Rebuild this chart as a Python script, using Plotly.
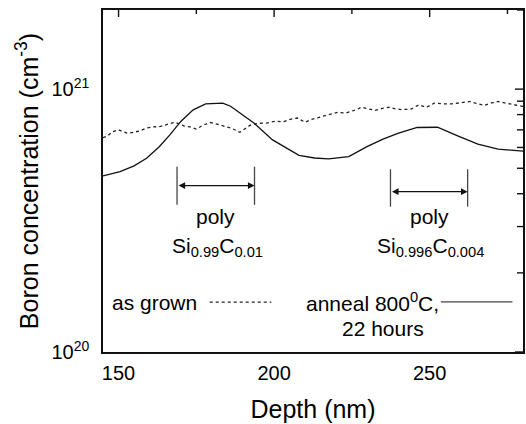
import math
import plotly.graph_objects as go

# ---- data ----
depth_annealed = [145, 150.5, 155, 159, 163, 166.5, 170, 174, 178, 183.5, 186, 189, 193.5, 199.5,
                  204, 208, 213, 217.5, 224, 230, 235, 240, 246, 252.5, 259, 265.5, 272, 280]
boron_annealed = [4.677e20, 4.853e20, 5.105e20, 5.458e20, 6.026e20, 6.699e20, 7.534e20, 8.337e20,
                  8.79e20, 8.851e20, 8.61e20, 8.11e20, 7.43e20, 6.412e20, 5.957e20, 5.598e20,
                  5.47e20, 5.433e20, 5.534e20, 6.053e20, 6.457e20, 6.808e20, 7.145e20, 7.161e20,
                  6.637e20, 6.18e20, 5.916e20, 5.808e20]

depth_grown = [145, 146.5, 148, 150, 151.5, 153, 155, 157, 159, 161, 163.5, 165.5, 168, 169.5, 171,
               173, 175, 177, 179.5, 182, 184, 186.5, 189, 191, 192.5, 195, 197.5, 200.5, 203,
               205.5, 207.5, 210, 212, 214.5, 217, 220.5, 223, 225, 226.5, 228, 230, 232.5, 234.5,
               237, 239, 241, 244, 246.5, 249, 251.5, 254, 257, 260, 263, 265, 267.5, 270, 272,
               274, 276, 278, 280]
boron_grown = [6.531e20, 6.637e20, 6.887e20, 6.998e20, 6.887e20, 6.792e20, 6.855e20, 6.950e20,
               7.112e20, 7.178e20, 7.211e20, 7.345e20, 7.482e20, 7.379e20, 7.244e20, 7.178e20,
               7.047e20, 7.278e20, 7.464e20, 7.345e20, 7.244e20, 7.079e20, 6.855e20, 7.112e20,
               7.311e20, 7.413e20, 7.430e20, 7.551e20, 7.516e20, 7.691e20, 7.762e20, 7.482e20,
               7.674e20, 7.816e20, 7.943e20, 8.166e20, 8.110e20, 8.222e20, 8.356e20, 8.531e20,
               8.414e20, 8.299e20, 8.433e20, 8.531e20, 8.414e20, 8.356e20, 8.395e20, 8.710e20,
               8.531e20, 8.851e20, 8.790e20, 8.790e20, 8.872e20, 8.974e20, 8.831e20, 8.670e20,
               8.872e20, 8.974e20, 8.872e20, 8.790e20, 8.710e20, 8.590e20]

x_ticks = [150, 200, 250]
x_minor = [175, 225, 275]
y_ticks = [1e20, 1e21]
y_ticktext = ["10<sup>20</sup>", "10<sup>21</sup>"]
y_minor = [2e20, 3e20, 4e20, 5e20, 6e20, 7e20, 8e20, 9e20, 2e21]

# layer regions (depth limits, nm) and labels
regions = [(168.8, 193.7), (237.4, 262.2)]
region_labels = ["Si<sub>0.99</sub>C<sub>0.01</sub>", "Si<sub>0.996</sub>C<sub>0.004</sub>"]

FONT = "Liberation Sans, Arial, sans-serif"
X_RANGE = [145, 280]
Y_RANGE = [20, 21.301]
INK = "#111"
W, H = 526, 424
M = dict(l=103, r=1, t=10, b=72)
PX_PER_X = (W - M["l"] - M["r"]) / (X_RANGE[1] - X_RANGE[0])
PX_PER_DEC = (H - M["t"] - M["b"]) / (Y_RANGE[1] - Y_RANGE[0])

fig = go.Figure()
fig.add_trace(go.Scatter(x=depth_grown, y=boron_grown, mode="lines",
                         line=dict(color="#222", width=1.3, dash="dot"), showlegend=False))
fig.add_trace(go.Scatter(x=depth_annealed, y=boron_annealed, mode="lines",
                         line=dict(color=INK, width=1.3), showlegend=False))

# outside tick marks as unclipped line markers just beyond the axes
for vals, ln in ((x_ticks, 6), (x_minor, 3)):
    yb = 10 ** (Y_RANGE[0] - (ln / 2) / PX_PER_DEC)
    fig.add_trace(go.Scatter(x=vals, y=[yb] * len(vals), mode="markers", cliponaxis=False,
                             marker=dict(symbol="line-ns", size=ln, line=dict(color=INK, width=1.4)),
                             hoverinfo="skip", showlegend=False))
for vals, ln in ((y_ticks, 8), (y_minor, 6)):
    xl = X_RANGE[0] - (ln / 2) / PX_PER_X
    fig.add_trace(go.Scatter(x=[xl] * len(vals), y=vals, mode="markers", cliponaxis=False,
                             marker=dict(symbol="line-ew", size=ln, line=dict(color=INK, width=1.4)),
                             hoverinfo="skip", showlegend=False))

fig.update_layout(
    width=W, height=H,
    margin=M,
    paper_bgcolor="white", plot_bgcolor="white",
    font=dict(family=FONT, color="black", size=20),
    xaxis=dict(range=X_RANGE, tickmode="array", tickvals=x_ticks, ticks="", showgrid=False,
               zeroline=False, showline=True, mirror=True, linecolor=INK, linewidth=1.5,
               tickfont=dict(size=20), ticklabelstandoff=2,
               title=dict(text="Depth (nm)", font=dict(size=25), standoff=18)),
    yaxis=dict(type="log", range=Y_RANGE, tickmode="array", tickvals=y_ticks, ticktext=y_ticktext,
               ticks="", showgrid=False, zeroline=False, showline=True, mirror=True,
               linecolor=INK, linewidth=1.5, tickfont=dict(size=20), ticklabelstandoff=8,
               title=dict(text="Boron concentration (cm<sup>-3</sup>)", font=dict(size=25), standoff=6)),
)


# inside tick marks on the mirrored (top / right) axes
def xfrac(v):
    return (v - X_RANGE[0]) / (X_RANGE[1] - X_RANGE[0])


def yfrac(v):
    return (math.log10(v) - Y_RANGE[0]) / (Y_RANGE[1] - Y_RANGE[0])


tick_line = dict(color=INK, width=1.4)
for vals, in_len in ((x_ticks, 7), (x_minor, 4)):
    for v in vals:
        f = xfrac(v)
        fig.add_shape(type="line", xref="paper", yref="paper", x0=f, x1=f, ysizemode="pixel",
                      yanchor=1, y0=0, y1=-in_len, line=tick_line)
for vals, in_len in ((y_ticks, 8), (y_minor, 6)):
    for v in vals:
        f = yfrac(v)
        fig.add_shape(type="line", xref="paper", yref="paper", y0=f, y1=f, xsizemode="pixel",
                      xanchor=1, x0=0, x1=-in_len, line=tick_line)

arrow_y = [20.633, 20.610]
bar_y = [(20.56, 20.705), (20.553, 20.695)]
for (x0, x1), ay, (b0, b1), lab in zip(regions, arrow_y, bar_y, region_labels):
    for xb in (x0, x1):
        fig.add_shape(type="line", xref="x", yref="y", x0=xb, x1=xb, y0=10 ** b0, y1=10 ** b1,
                      line=dict(color="#444", width=1.3))
    fig.add_annotation(x=x1, y=ay, ax=x0, ay=ay, xref="x", yref="y", axref="x", ayref="y",
                       text="", showarrow=True, arrowhead=2, arrowside="end+start",
                       arrowsize=1.1, arrowwidth=1.2, arrowcolor=INK, standoff=0, startstandoff=0)
    xc = (x0 + x1) / 2
    fig.add_annotation(x=xc, y=20.514, xref="x", yref="y", text="poly", showarrow=False,
                       font=dict(size=21), xanchor="center", yanchor="middle")
    fig.add_annotation(x=xc + 0.5, y=20.40, xref="x", yref="y", text=lab, showarrow=False,
                       font=dict(size=21), xanchor="center", yanchor="middle")

# legend
fig.add_annotation(x=147.4, y=20.19, xref="x", yref="y", text="as grown", showarrow=False,
                   font=dict(size=21), xanchor="left", yanchor="middle")
fig.add_shape(type="line", xref="x", yref="y", x0=179.3, x1=199.1, y0=10 ** 20.19, y1=10 ** 20.19,
              line=dict(color="#222", width=1.3, dash="dot"))
fig.add_annotation(x=209.6, y=20.19, xref="x", yref="y", text="anneal 800<sup>0</sup>C,",
                   showarrow=False, font=dict(size=21), xanchor="left", yanchor="middle")
fig.add_shape(type="line", xref="x", yref="y", x0=253.6, x1=276.6, y0=10 ** 20.191, y1=10 ** 20.191,
              line=dict(color="#444", width=1.3))
fig.add_annotation(x=235.1, y=20.091, xref="x", yref="y", text="22 hours", showarrow=False,
                   font=dict(size=21), xanchor="center", yanchor="middle")

fig.write_html("out.html", config={"displayModeBar": False},
               post_script="document.body.style.margin='0';")
